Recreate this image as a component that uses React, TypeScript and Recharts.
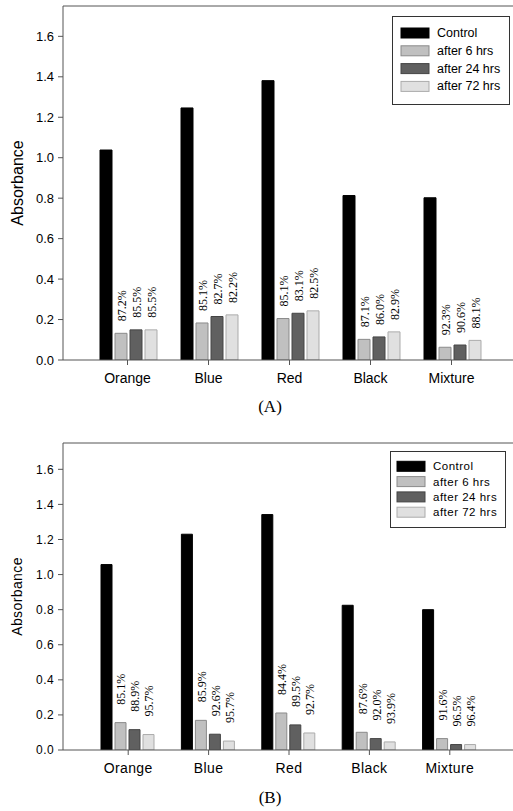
import React from 'react';
import { BarChart, Bar, XAxis, YAxis, ReferenceLine, LabelList, Legend } from 'recharts';

const categories = ['Orange', 'Blue', 'Red', 'Black', 'Mixture'];
const yTicks = [0, 0.2, 0.4, 0.6, 0.8, 1.0, 1.2, 1.4, 1.6];

// panel (A)
const controlA = [1.038, 1.246, 1.381, 0.813, 0.802];
const hrs6A = [0.132, 0.183, 0.205, 0.102, 0.063];
const hrs24A = [0.149, 0.215, 0.231, 0.114, 0.074];
const hrs72A = [0.149, 0.223, 0.243, 0.139, 0.097];
const pct6A = ['87.2%', '85.1%', '85.1%', '87.1%', '92.3%'];
const pct24A = ['85.5%', '82.7%', '83.1%', '86.0%', '90.6%'];
const pct72A = ['85.5%', '82.2%', '82.5%', '82.9%', '88.1%'];

// panel (B)
const controlB = [1.057, 1.23, 1.342, 0.825, 0.8];
const hrs6B = [0.156, 0.169, 0.211, 0.101, 0.065];
const hrs24B = [0.116, 0.09, 0.143, 0.065, 0.031];
const hrs72B = [0.088, 0.051, 0.097, 0.046, 0.031];
const pct6B = ['85.1%', '85.9%', '84.4%', '87.6%', '91.6%'];
const pct24B = ['88.9%', '92.6%', '89.5%', '92.0%', '96.5%'];
const pct72B = ['95.7%', '95.7%', '92.7%', '93.9%', '96.4%'];

const series = [
  { key: 'control', name: 'Control', fill: '#000000', stroke: '#000000' },
  { key: 'h6', name: 'after 6 hrs', fill: '#c0c0c0', stroke: '#8a8a8a' },
  { key: 'h24', name: 'after 24 hrs', fill: '#606060', stroke: '#444444' },
  { key: 'h72', name: 'after 72 hrs', fill: '#e0e0e0', stroke: '#ababab' },
];

const SANS = '"Liberation Sans", Arial, sans-serif';
const SERIF = '"Liberation Serif", "Times New Roman", serif';

function buildRows(c: number[], a: number[], b: number[], d: number[], la: string[], lb: string[], ld: string[]) {
  return categories.map((name, i) => ({
    name, control: c[i], h6: a[i], h24: b[i], h72: d[i], l6: la[i], l24: lb[i], l72: ld[i],
  }));
}

const rowsA = buildRows(controlA, hrs6A, hrs24A, hrs72A, pct6A, pct24A, pct72A);
const rowsB = buildRows(controlB, hrs6B, hrs24B, hrs72B, pct6B, pct24B, pct72B);

const makeLabel = (gap: number) => (props: any) => {
  const { x, y, width, value } = props;
  const cx = Number(x) + Number(width) / 2 + 1;
  const ty = Number(y) - gap;
  return (
    <text x={cx} y={ty} transform={`rotate(-90 ${cx} ${ty})`} textAnchor="start"
      dominantBaseline="central" fontFamily={SERIF} fontSize={12} fill="#000">
      {value}
    </text>
  );
};

function LegendBox({ rowH, first, textX, fontSize, spacing }: any) {
  return (
    <svg width="100%" height="100%" style={{ display: 'block' }}>
      <rect x={0.5} y={0.5} width="calc(100% - 1px)" height="calc(100% - 1px)" fill="#fff" stroke="#333" />
      {series.map((s, i) => {
        const cy = first + i * rowH;
        return (
          <g key={s.key}>
            <rect x={textX - 36} y={cy - 5} width={28} height={10} fill={s.fill} stroke={s.stroke} />
            <text x={textX} y={cy} dominantBaseline="central" fontFamily={SANS} fontSize={fontSize}
              letterSpacing={spacing} fill="#000">{s.name}</text>
          </g>
        );
      })}
    </svg>
  );
}

function Panel({ rows, height, top, plotTop, axisFont, titleFont, padL, padR, labelGap, legend, letter }: any) {
  return (
    <div style={{ position: 'absolute', left: 0, top }}>
      <BarChart width={513} height={height} data={rows} barCategoryGap={13} barGap={3}
        margin={{ top: plotTop, right: 0, bottom: 0, left: 15 }}>
        <XAxis dataKey="name" height={40} padding={{ left: padL, right: padR }} tickSize={5} tickMargin={8}
          stroke="#555" tick={{ fill: '#000', fontFamily: SANS, fontSize: 14, letterSpacing: letter }} />
        <YAxis domain={[0, 1.75]} ticks={yTicks} width={48} tickSize={5} tickMargin={4} stroke="#555"
          tickFormatter={(v: number) => v.toFixed(1)} allowDataOverflow
          tick={{ fill: '#000', fontFamily: SANS, fontSize: axisFont, letterSpacing: letter }}
          label={{ value: 'Absorbance', angle: -90, position: 'insideLeft', offset: 2,
            style: { textAnchor: 'middle', fontFamily: SANS, fontSize: titleFont, fill: '#000', letterSpacing: letter } }} />
        <ReferenceLine y={1.75} stroke="#555" />
        <Legend layout="horizontal" verticalAlign="middle" align="center"
          wrapperStyle={{ position: 'absolute', left: legend.left, top: legend.top, width: legend.width, height: legend.height }}
          content={() => <LegendBox {...legend} />} />
        {series.map((s) => (
          <Bar key={s.key} dataKey={s.key} name={s.name} fill={s.fill} stroke={s.stroke} strokeWidth={1}
            isAnimationActive={false}>
            {s.key !== 'control' && (
              <LabelList dataKey={s.key === 'h6' ? 'l6' : s.key === 'h24' ? 'l24' : 'l72'} content={makeLabel(labelGap)} />
            )}
          </Bar>
        ))}
      </BarChart>
    </div>
  );
}

export default function App() {
  return (
    <div style={{ position: 'absolute', left: 0, top: 0, width: 513, height: 811, overflow: 'hidden', background: '#fff' }}>
      <Panel rows={rowsA} height={400} top={0} plotTop={6} axisFont={13} titleFont={16} padL={24} padR={21}
        labelGap={12} letter={0}
        legend={{ left: 392, top: 16, width: 118, height: 89, rowH: 17.8, first: 17, textX: 45, fontSize: 12.5, spacing: 0 }} />
      <div style={{ position: 'absolute', left: 250, top: 397, width: 40, textAlign: 'center', fontFamily: SERIF, fontSize: 17 }}>(A)</div>
      <Panel rows={rowsB} height={354} top={436} plotTop={7} axisFont={12} titleFont={14} padL={25} padR={23}
        labelGap={18} letter={0.4}
        legend={{ left: 390, top: 15, width: 116, height: 77, rowH: 15.3, first: 15.3, textX: 43, fontSize: 11.5, spacing: 0.5 }} />
      <div style={{ position: 'absolute', left: 250, top: 788, width: 40, textAlign: 'center', fontFamily: SERIF, fontSize: 17 }}>(B)</div>
    </div>
  );
}
